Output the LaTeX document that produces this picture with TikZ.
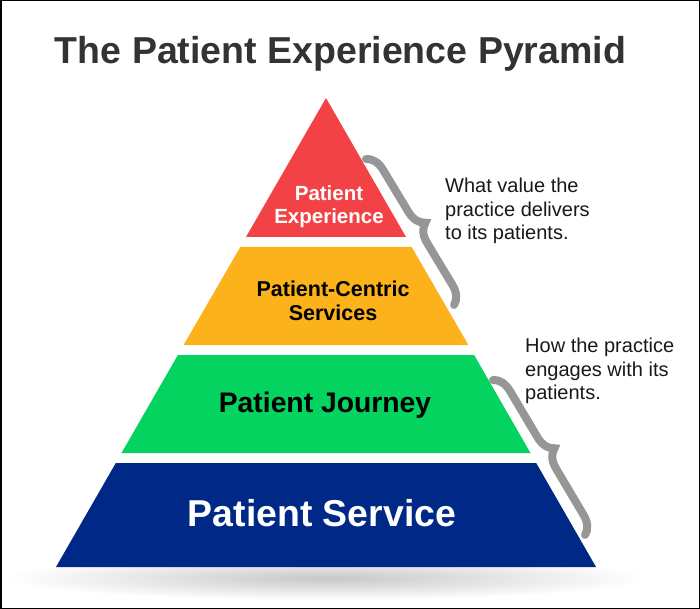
\documentclass[tikz,border=0pt]{standalone}
\usepackage{fontspec}
\setmainfont{Liberation Sans}
\usetikzlibrary{decorations.pathreplacing}
\definecolor{pred}{RGB}{242,66,70}
\definecolor{porange}{RGB}{252,178,26}
\definecolor{pgreen}{RGB}{4,211,96}
\definecolor{pblue}{RGB}{0,41,135}
\definecolor{ptitle}{RGB}{51,51,51}
\definecolor{pbrace}{RGB}{150,150,150}
\begin{document}
\begin{tikzpicture}[x=1pt,y=-1pt,
  lbl/.style={inner sep=0pt,align=center,anchor=base},
  note/.style={inner sep=0pt,align=left,anchor=north west,text=black!90,
    font=\fontsize{20}{23.5}\selectfont},
  bracestyle/.style={draw=pbrace,line width=8pt,line cap=round,
    decorate,decoration={brace,amplitude=18pt,aspect=0.5}}]
\useasboundingbox (0,0) rectangle (700,609);
\fill[white] (0,0) rectangle (700,609);
% shadow
\shade[inner color=black!22,outer color=white] (326,578) ellipse (322pt and 22pt);
% pyramid levels (center 326, slope 0.575)
\fill[pred] (326,98) -- (406,237) -- (246,237) -- cycle;
\fill[porange] (411.7,247) -- (468.4,345) -- (183.6,345) -- (240.3,247) -- cycle;
\fill[pgreen] (474.1,355) -- (530.5,453) -- (121.5,453) -- (177.9,355) -- cycle;
\fill[pblue] (536.2,463) -- (596,567) -- (56,567) -- (115.8,463) -- cycle;
% title
\node[inner sep=0pt,anchor=base,text=ptitle,font=\fontsize{37.5}{40}\selectfont\bfseries]
  (title) at (340.5,64) {The Patient Experience Pyramid};
% labels
\node[lbl,text=white,font=\fontsize{20.5}{23}\selectfont\bfseries] (l1) at (329,201) {Patient};
\node[lbl,text=white,font=\fontsize{20.5}{23}\selectfont\bfseries] (l1b) at (329,224) {Experience};
\node[lbl,text=black,font=\fontsize{21.5}{25}\selectfont\bfseries] (l2) at (333,296) {Patient-Centric};
\node[lbl,text=black,font=\fontsize{21.5}{25}\selectfont\bfseries] (l2b) at (333,320) {Services};
\node[lbl,text=black,font=\fontsize{28.3}{30}\selectfont\bfseries] (l3) at (325,412) {Patient Journey};
\node[lbl,text=white,font=\fontsize{37.4}{40}\selectfont\bfseries] (l4) at (322,526) {Patient Service};
% notes
\node[note] (n1) at (445,178) {What value the\\practice delivers\\to its patients.};
\node[note] (n2) at (525,338) {How the practice\\engages with its\\patients.};
% braces
\coordinate (b1s) at (366,159);
\coordinate (b1e) at (454,305);
\coordinate (b2s) at (493,380);
\coordinate (b2e) at (585,535);
\draw[bracestyle] (b1s) -- (b1e);
\draw[bracestyle] (b2s) -- (b2e);
% border
\draw[black,line width=1.5pt] (0.75,0.75) rectangle (699.25,608.25);
\end{tikzpicture}
\end{document}
